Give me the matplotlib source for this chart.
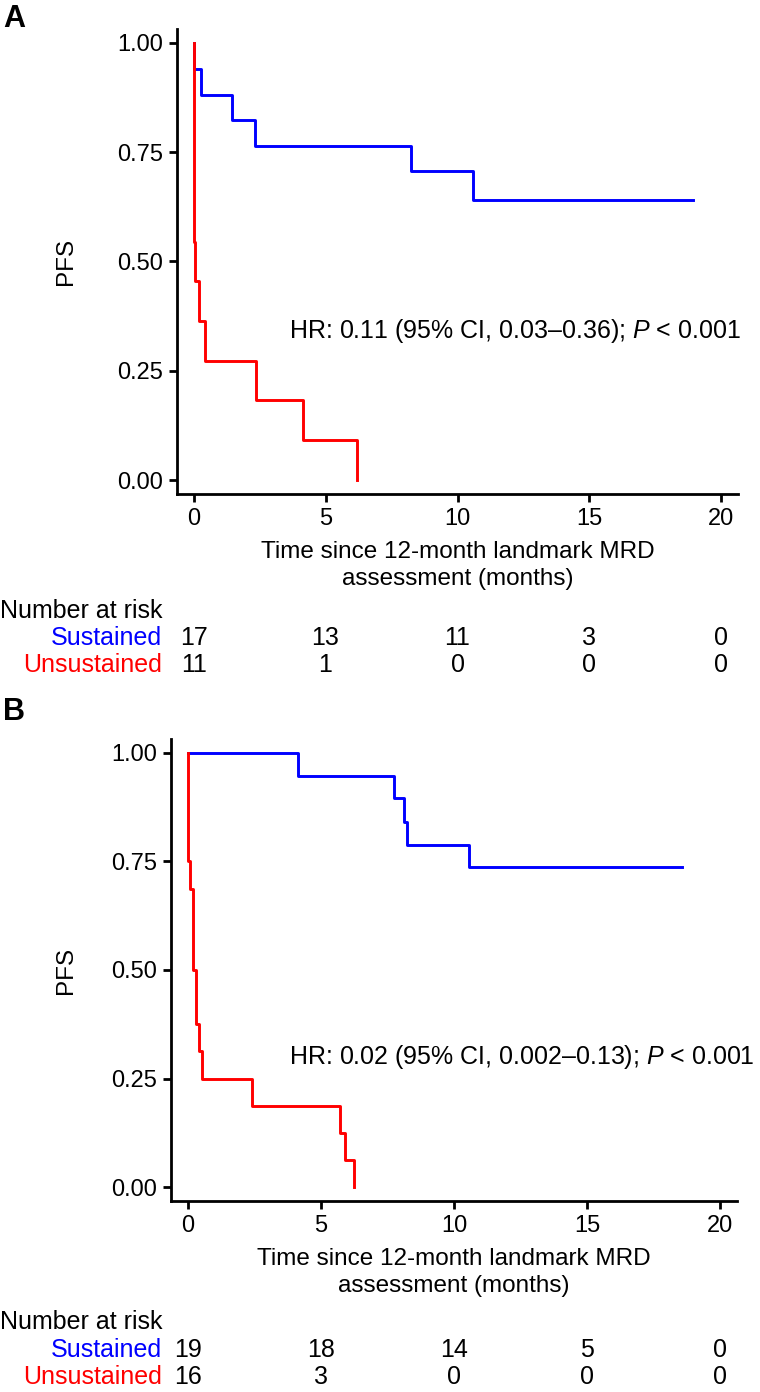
import matplotlib
matplotlib.use('Agg')
import matplotlib.pyplot as plt
from matplotlib.transforms import blended_transform_factory

plt.rcParams['font.family'] = ['Liberation Sans', 'DejaVu Sans']
plt.rcParams['mathtext.fontset'] = 'custom'
plt.rcParams['mathtext.rm'] = 'Liberation Sans'
plt.rcParams['mathtext.it'] = 'Liberation Sans:italic'

# Panel A: Kaplan-Meier steps
a_sus_t = [0, 0.02, 0.29, 1.44, 2.31, 8.22, 10.57, 18.94]
a_sus_s = [1.0, 0.941, 0.882, 0.824, 0.765, 0.706, 0.641, 0.641]
a_uns_t = [0, 0.005, 0.01, 0.015, 0.02, 0.025, 0.05, 0.22, 0.44, 2.35, 4.16, 6.21]
a_uns_s = [1.0, 0.909, 0.818, 0.727, 0.636, 0.545, 0.455, 0.364, 0.273, 0.182, 0.091, 0.0]

# Panel B
b_sus_t = [0, 4.13, 7.73, 8.12, 8.24, 10.55, 18.55]
b_sus_s = [1.0, 0.947, 0.895, 0.842, 0.789, 0.737, 0.737]
b_uns_t = [0, 0.005, 0.01, 0.015, 0.02, 0.07, 0.19, 0.30, 0.42, 0.52, 2.40, 5.71, 5.89, 6.24]
b_uns_s = [1.0, 0.9375, 0.875, 0.8125, 0.75, 0.6875, 0.5, 0.375, 0.3125, 0.25, 0.1875, 0.125, 0.0625, 0.0]

risk_times = [0, 5, 10, 15, 20]
a_risk_sus = [17, 13, 11, 3, 0]
a_risk_uns = [11, 1, 0, 0, 0]
b_risk_sus = [19, 18, 14, 5, 0]
b_risk_uns = [16, 3, 0, 0, 0]

hr_a = 'HR: 0.11 (95% CI, 0.03\u20130.36); $P$ < 0.001'
hr_b = 'HR: 0.02 (95% CI, 0.002\u20130.13); $P$ < 0.001'

W, H = 760, 1392
fig = plt.figure(figsize=(W / 100, H / 100), dpi=100)


def fx(x):
    return x / W


def fy(y):
    return 1 - y / H


def panel(box, letter, letter_y, sus_t, sus_s, uns_t, uns_s, hr, hr_xy,
          risk_sus, risk_uns, risk_y):
    left, top, right, bottom = box
    ax = fig.add_axes([fx(left), fy(bottom), fx(right) - fx(left), fy(top) - fy(bottom)])
    ax.step(sus_t, sus_s, where='post', color='#0000FF', lw=2.1)
    ax.step(uns_t, uns_s, where='post', color='#FF0000', lw=2.1)
    ax.set_xlim(-0.63, 20.63)
    ax.set_ylim(-0.032, 1.032)
    ax.set_xticks(risk_times)
    ax.set_yticks([0, 0.25, 0.5, 0.75, 1.0])
    ax.set_yticklabels(['0.00', '0.25', '0.50', '0.75', '1.00'])
    for s in ['top', 'right']:
        ax.spines[s].set_visible(False)
    for s in ['left', 'bottom']:
        ax.spines[s].set_linewidth(2)
    ax.tick_params(width=2, length=6, labelsize=17, pad=4, colors='black')
    ax.set_xlabel('Time since 12-month landmark MRD\nassessment (months)',
                  fontsize=17.5, labelpad=8, linespacing=1.3)
    ax.text(hr_xy[0], hr_xy[1], hr, fontsize=18, va='center', ha='left')

    fig.text(fx(66), fy((top + bottom) / 2), 'PFS', rotation=90,
             fontsize=17.5, ha='center', va='center')
    fig.text(fx(3), fy(letter_y), letter, fontsize=22, fontweight='bold',
             ha='left', va='center')

    tr = blended_transform_factory(ax.transData, fig.transFigure)
    fig.text(0, fy(risk_y[0]), 'Number at risk', fontsize=18, ha='left', va='center')
    fig.text(fx(162), fy(risk_y[1]), 'Sustained', fontsize=18, color='#0000FF',
             ha='right', va='center')
    fig.text(fx(162), fy(risk_y[2]), 'Unsustained', fontsize=18, color='#FF0000',
             ha='right', va='center')
    for t, n1, n2 in zip(risk_times, risk_sus, risk_uns):
        ax.text(t, fy(risk_y[1]), str(n1), transform=tr, fontsize=18,
                ha='center', va='center')
        ax.text(t, fy(risk_y[2]), str(n2), transform=tr, fontsize=18,
                ha='center', va='center')
    return ax


panel((177, 29, 738, 494), 'A', 19, a_sus_t, a_sus_s, a_uns_t, a_uns_s,
      hr_a, (3.62, 0.34), a_risk_sus, a_risk_uns, (611, 638, 665))
panel((171, 739, 737, 1201), 'B', 712, b_sus_t, b_sus_s, b_uns_t, b_uns_s,
      hr_b, (3.82, 0.30), b_risk_sus, b_risk_uns, (1322, 1350, 1377))

fig.savefig('out.png', dpi=100)
